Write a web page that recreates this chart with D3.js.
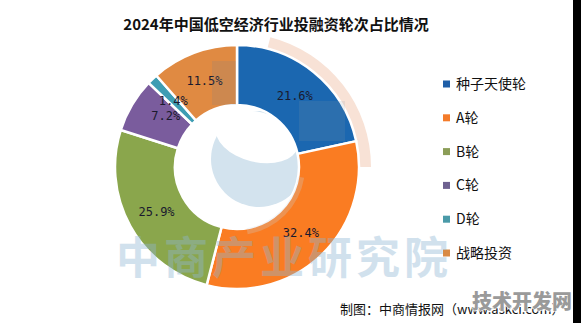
<!DOCTYPE html>
<html>
<head>
<meta charset="utf-8">
<script src="https://cdn.jsdelivr.net/npm/d3@7/dist/d3.min.js"></script>
<style>
  html, body { margin: 0; padding: 0; background: #fff; }
  svg { display: block; }
</style>
</head>
<body>
<script>
// Financing rounds of China's low-altitude economy sector, 2024 (share of deals, %)
const categories = ["种子天使轮", "A轮", "B轮", "C轮", "D轮", "战略投资"];
const shares = [21.6, 32.4, 25.9, 7.2, 1.4, 11.5];
const sliceColors = ["#1b67b0", "#fa7c22", "#8aa64c", "#7a5c9d", "#3d9db3", "#e08a42"];
const legendColors = ["#1f5fa8", "#f47b2a", "#8b9d57", "#6e6190", "#4a9aa8", "#d98a44"];

const title = "2024年中国低空经济行业投融资轮次占比情况";
const sourceNote = "制图：中商情报网（www.askci.com）";

const W = 581, H = 323;
const svg = d3.select("body").append("svg").attr("width", W).attr("height", H);
svg.append("rect").attr("width", W).attr("height", H).attr("fill", "#fff");

const cx = 237, cy = 167, rOuter = 122, rInner = 62;

const pie = d3.pie().sort(null).value(d => d.v);
const arcs = pie(categories.map((c, i) => ({ c, v: shares[i], i })));
const arc = d3.arc().innerRadius(rInner).outerRadius(rOuter);
const labelArc = d3.arc().innerRadius(92).outerRadius(92);

// faint logo behind the ring
const logo = svg.append("g").attr("transform", `translate(${cx},${cy})`);
logo.append("path")
  .attr("d", d3.arc().innerRadius(112).outerRadius(134)
    .startAngle(Math.PI * 0.08).endAngle(Math.PI * 0.5)())
  .attr("fill", "#f8e2d6");
logo.append("circle").attr("cx", 22).attr("cy", -8).attr("r", 48).attr("fill", "#d3e3ee");
logo.append("ellipse").attr("cx", 20).attr("cy", -30).attr("rx", 42).attr("ry", 25)
  .attr("transform", "rotate(14,20,-30)").attr("fill", "#fff");

const g = svg.append("g").attr("transform", `translate(${cx},${cy})`);
g.selectAll("path.slice").data(arcs).join("path")
  .attr("class", "slice")
  .attr("d", arc)
  .attr("fill", d => sliceColors[d.data.i])
  .attr("stroke", "#fff")
  .attr("stroke-width", 2.5)
  .attr("stroke-linejoin", "round");

// translucent logo strokes drawn over the ring
const over = svg.append("g").attr("transform", `translate(${cx},${cy})`);
over.append("rect").attr("x", -25).attr("y", -106).attr("width", 24).attr("height", 44)
  .attr("fill", "#5a7fa0").attr("opacity", 0.14);
over.append("rect").attr("x", 62).attr("y", -66).attr("width", 46).attr("height", 40)
  .attr("fill", "#8a9aa8").attr("opacity", 0.16);
over.append("path")
  .attr("d", d3.arc().innerRadius(rInner).outerRadius(rInner + 6)
    .startAngle(Math.PI * 0.55).endAngle(Math.PI * 0.95)())
  .attr("fill", "#c8d8e4").attr("opacity", 0.25);

// value labels
const nudge = { "C轮": [8, -4] };
g.selectAll("text.val").data(arcs).join("text")
  .attr("class", "val")
  .attr("transform", d => {
    const [x, y] = labelArc.centroid(d);
    const n = nudge[d.data.c] || [0, 0];
    return `translate(${x + n[0]},${y + n[1]})`;
  })
  .attr("text-anchor", "middle")
  .attr("dy", "0.35em")
  .attr("font-family", "'DejaVu Sans Mono', monospace")
  .attr("font-size", 12)
  .attr("fill", "#1a1a2e")
  .text(d => d.data.v.toFixed(1) + "%");

// title
svg.append("text")
  .attr("x", 276).attr("y", 30)
  .attr("text-anchor", "middle")
  .attr("font-family", "'Noto Sans CJK SC', sans-serif")
  .attr("font-weight", "bold")
  .attr("font-size", 15)
  .attr("fill", "#111")
  .text(title);

// legend
const legendY = d3.scalePoint().domain(categories).range([84, 253]);
const lg = svg.append("g");
categories.forEach((c, i) => {
  const y = legendY(c);
  lg.append("rect").attr("x", 443).attr("y", y - 3.5).attr("width", 7).attr("height", 7)
    .attr("fill", legendColors[i]);
  lg.append("text").attr("x", 456).attr("y", y).attr("dy", "0.36em")
    .attr("font-family", "'Noto Sans CJK SC', sans-serif")
    .attr("font-size", 14).attr("fill", "#111").text(c);
});

// watermark text
svg.append("text")
  .attr("x", 284).attr("y", 274)
  .attr("text-anchor", "middle")
  .attr("font-family", "'Noto Sans CJK SC', sans-serif")
  .attr("font-weight", "bold")
  .attr("font-size", 44)
  .attr("letter-spacing", 4)
  .attr("fill", "#8fb6d4")
  .attr("opacity", 0.4)
  .text("中商产业研究院");

// source note
svg.append("text")
  .attr("x", 340).attr("y", 314)
  .attr("font-family", "'Noto Sans CJK SC', sans-serif")
  .attr("font-size", 13).attr("fill", "#111")
  .text(sourceNote);

// site stamp in the corner
svg.append("text")
  .attr("x", 572).attr("y", 309)
  .attr("text-anchor", "end")
  .attr("font-family", "'Noto Sans CJK SC', sans-serif")
  .attr("font-weight", "900")
  .attr("font-size", 20)
  .attr("fill", "#9a9a9a")
  .attr("stroke", "#fff").attr("stroke-width", 1.2).attr("paint-order", "stroke")
  .text("技术开发网");

// dark border strip on the right edge
svg.append("rect").attr("x", 573).attr("y", 0).attr("width", 8).attr("height", H).attr("fill", "#000");
</script>
</body>
</html>
